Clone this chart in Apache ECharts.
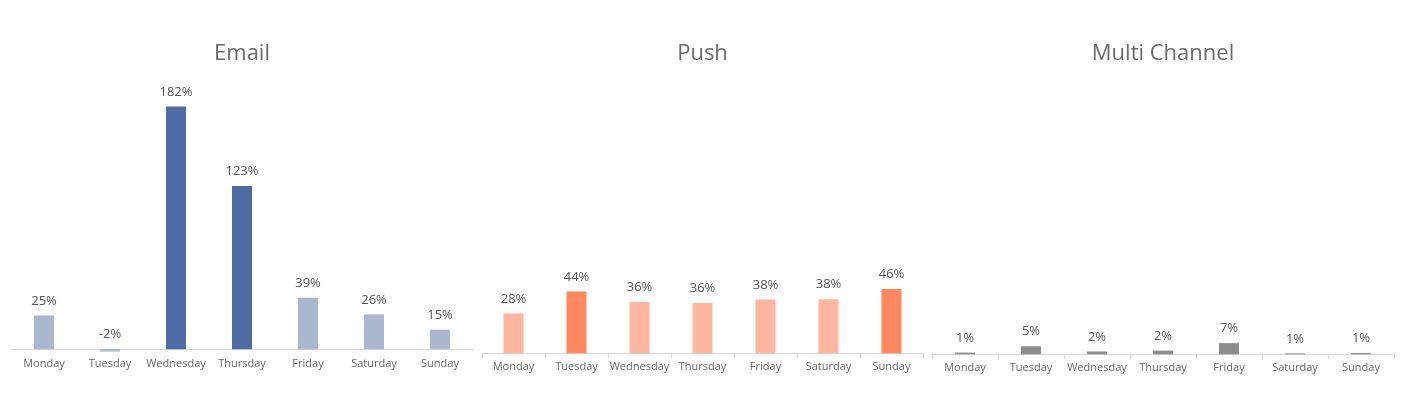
<!DOCTYPE html>
<html>
<head>
<meta charset="utf-8">
<script src="https://cdn.jsdelivr.net/npm/echarts@6/dist/echarts.min.js"></script>
<style>
html,body{margin:0;padding:0;background:#fff;}
#chart{width:1408px;height:394px;}
</style>
</head>
<body>
<div id="chart"></div>
<script>
const categories = ['Monday','Tuesday','Wednesday','Thursday','Friday','Saturday','Sunday'];
const titles = ['Email','Push','Multi Channel'];
const emailValues = [25.3, -1.8, 182.4, 122.6, 38.6, 26.1, 14.6];
const pushValues = [28.3, 43.8, 36.4, 35.7, 38.1, 38.4, 45.6];
const multiValues = [1.1, 5.2, 1.8, 2.4, 7.2, 0.6, 0.8];
const emailHighlight = [false, false, true, true, false, false, false];
const pushHighlight = [false, true, false, false, false, false, true];

const FONT = '"Open Sans", sans-serif';
const chart = echarts.init(document.getElementById('chart'), null, {renderer:'canvas'});

const grids = [
  {left: 11, width: 462, top: 96.4, height: 255.4},
  {left: 482, width: 441, top: 85.4, height: 267.9},
  {left: 932, width: 462, top: 90.8, height: 263.5}
];
const yRanges = [[-2, 190], [0, 190], [0, 170]];
const showTicks = [false, true, true];
const labelMargins = [6.5, 8, 8];

function colored(values, hl, light, dark) {
  return values.map((v, i) => ({value: v, itemStyle: {color: hl[i] ? dark : light}}));
}
const seriesData = [
  colored(emailValues, emailHighlight, '#A9B8CE', '#4F6BA3'),
  colored(pushValues, pushHighlight, '#FFB6A0', '#FF8861'),
  multiValues.map(v => ({value: v, itemStyle: {color: '#8C8C8C'}}))
];

const option = {
  backgroundColor: '#fff',
  animation: false,
  title: titles.map((t, i) => ({
    text: t,
    left: grids[i].left + grids[i].width / 2 - 5,
    top: 38,
    textAlign: 'center',
    textStyle: {fontFamily: FONT, fontSize: 22, fontWeight: 'normal', color: '#6b6b6b'}
  })),
  grid: grids.map(g => ({left: g.left, width: g.width, top: g.top, height: g.height, containLabel: false})),
  xAxis: grids.map((g, i) => ({
    type: 'category',
    gridIndex: i,
    data: categories,
    axisLine: {show: true, onZero: true, lineStyle: {color: '#d9d9d9', width: 1}},
    axisTick: {show: showTicks[i], length: 5, lineStyle: {color: '#d9d9d9'}},
    axisLabel: {fontFamily: FONT, fontSize: 11, color: '#666', margin: labelMargins[i], interval: 0}
  })),
  yAxis: grids.map((g, i) => ({
    type: 'value',
    gridIndex: i,
    min: yRanges[i][0],
    max: yRanges[i][1],
    show: false,
    splitLine: {show: false}
  })),
  series: seriesData.map((d, i) => ({
    type: 'bar',
    xAxisIndex: i,
    yAxisIndex: i,
    data: d,
    barWidth: 20,
    label: {
      show: true,
      position: 'top',
      distance: 8,
      fontFamily: FONT,
      fontSize: 13,
      color: '#555',
      formatter: p => Math.round(p.value) + '%'
    }
  }))
};
chart.setOption(option);
</script>
</body>
</html>
